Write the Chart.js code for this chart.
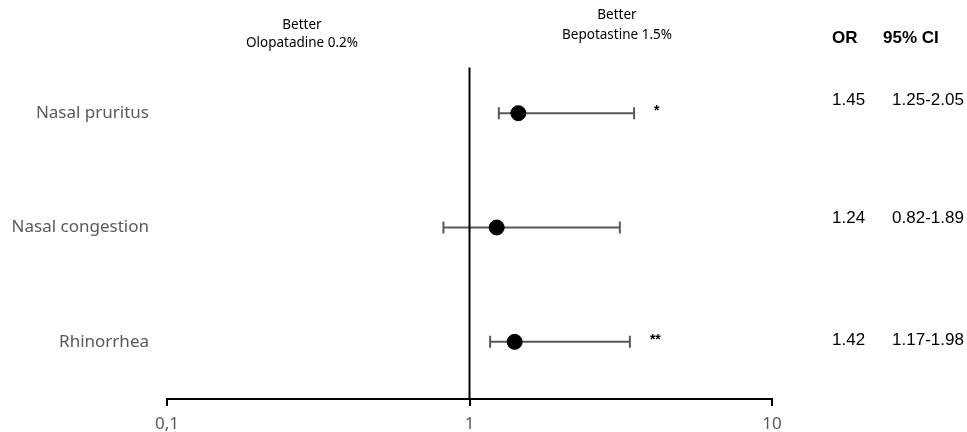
<!DOCTYPE html>
<html>
<head>
<meta charset="utf-8">
<script src="https://cdn.jsdelivr.net/npm/chart.js@4.4.1/dist/chart.umd.min.js"></script>
<style>
    html, body { margin: 0; padding: 0; background: #fff; }
    #wrap { width: 967px; height: 432px; position: relative; }
</style>
</head>
<body>
<div id="wrap"><canvas id="forest"></canvas></div>
<script>
// Forest plot data
const categories = ['Nasal pruritus', 'Nasal congestion', 'Rhinorrhea'];
const rowIndex = [3, 2, 1];
const oddsRatio = [1.45, 1.23, 1.41];
const ciLower = [1.25, 0.82, 1.17];
const ciUpper = [3.5, 3.14, 3.39];
const orText = ['1.45', '1.24', '1.42'];
const ciText = ['1.25-2.05', '0.82-1.89', '1.17-1.98'];
const significance = ['*', '', '**'];
const xTicks = [0.1, 1, 10];
const xTickLabels = ['0,1', '1', '10'];

const GREY = '#595959';

// whiskers with end caps, drawn from the CI arrays through the scales
const whiskerPlugin = {
    id: 'whiskers',
    beforeDatasetsDraw(chart) {
        const { ctx, scales: { x, y } } = chart;
        ctx.save();
        ctx.strokeStyle = GREY;
        ctx.lineWidth = 2;
        rowIndex.forEach((r, i) => {
            const py = y.getPixelForValue(r);
            const x0 = x.getPixelForValue(ciLower[i]);
            const x1 = x.getPixelForValue(ciUpper[i]);
            ctx.beginPath();
            ctx.moveTo(x0, py); ctx.lineTo(x1, py);
            ctx.moveTo(x0, py - 6); ctx.lineTo(x0, py + 6);
            ctx.moveTo(x1, py - 6); ctx.lineTo(x1, py + 6);
            ctx.stroke();
        });
        ctx.restore();
    }
};

// headers, OR / CI columns and significance marks
const textPlugin = {
    id: 'texts',
    afterDraw(chart) {
        const { ctx, scales: { x, y } } = chart;
        ctx.save();
        ctx.fillStyle = '#000';
        ctx.textBaseline = 'middle';
        ctx.textAlign = 'center';
        ctx.font = '13.5px "Noto Sans"';
        ctx.fillText('Better', 302, 25);
        ctx.fillText('Olopatadine 0.2%', 302, 43);
        ctx.fillText('Better', 617, 15);
        ctx.fillText('Bepotastine 1.5%', 617, 35);

        ctx.font = 'bold 17px "Liberation Sans"';
        ctx.textAlign = 'left';
        ctx.fillText('OR', 832, 38);
        ctx.fillText('95% CI', 883, 38);

        const offs = [-13, -9, -2];
        ctx.font = '17px "Liberation Sans"';
        rowIndex.forEach((r, i) => {
            const py = y.getPixelForValue(r) + offs[i];
            ctx.textAlign = 'left';
            ctx.fillText(orText[i], 832, py);
            ctx.textAlign = 'center';
            ctx.fillText(ciText[i], 928, py);
        });

        ctx.font = 'bold 14px "Liberation Sans"';
        ctx.textAlign = 'left';
        rowIndex.forEach((r, i) => {
            if (!significance[i]) return;
            ctx.fillText(significance[i], x.getPixelForValue(ciUpper[i]) + 20, y.getPixelForValue(r) - 2);
        });
        ctx.restore();
    }
};

const ctx = document.getElementById('forest').getContext('2d');
new Chart(ctx, {
    type: 'scatter',
    data: {
        datasets: [
            {
                label: 'OR',
                data: rowIndex.map((r, i) => ({ x: oddsRatio[i], y: r })),
                backgroundColor: '#000',
                borderColor: '#000',
                pointRadius: 7.5,
                pointHoverRadius: 7.5
            },
            {
                label: 'no effect',
                type: 'line',
                data: [{ x: 1, y: 0.5 }, { x: 1, y: 3.4 }],
                borderColor: '#000',
                borderWidth: 2,
                pointRadius: 0,
                order: 5
            }
        ]
    },
    options: {
        responsive: true,
        maintainAspectRatio: false,
        animation: false,
        layout: { padding: { top: 56, right: 195, left: 0, bottom: 0 } },
        plugins: { legend: { display: false }, tooltip: { enabled: false } },
        scales: {
            x: {
                type: 'logarithmic',
                min: 0.1,
                max: 10,
                afterBuildTicks: s => { s.ticks = xTicks.map(v => ({ value: v })); },
                afterFit: s => { s.height = 33; },
                border: { display: true, color: '#000', width: 2 },
                grid: { drawOnChartArea: false, drawTicks: true, tickLength: 7, color: '#000', lineWidth: 2 },
                ticks: {
                    callback: (v) => xTickLabels[xTicks.indexOf(v)],
                    color: GREY,
                    font: { family: 'Noto Sans', size: 17 },
                    padding: 8,
                    maxRotation: 0,
                    autoSkip: false
                }
            },
            y: {
                type: 'linear',
                min: 0.5,
                max: 3.5,
                afterBuildTicks: s => { s.ticks = rowIndex.map(v => ({ value: v })); },
                afterFit: s => { s.width = 167; },
                border: { display: false },
                grid: { display: false },
                ticks: {
                    callback: (v) => categories[rowIndex.indexOf(v)],
                    color: GREY,
                    font: { family: 'Noto Sans', size: 17 },
                    padding: 10
                }
            }
        }
    },
    plugins: [whiskerPlugin, textPlugin]
});
</script>
</body>
</html>
